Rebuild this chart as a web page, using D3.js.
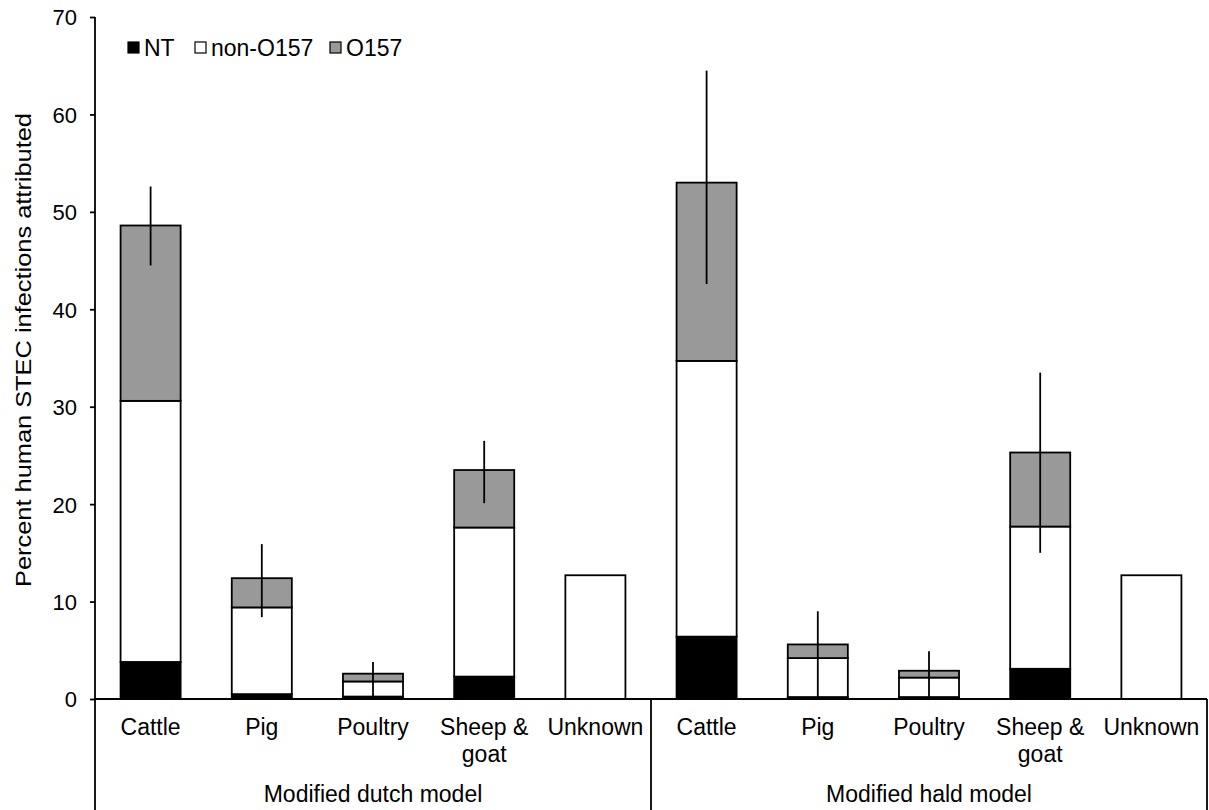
<!DOCTYPE html>
<html>
<head>
<meta charset="utf-8">
<script src="https://cdn.jsdelivr.net/npm/d3@7"></script>
<style>
  body { margin: 0; background: #fff; }
  text { font-family: "Liberation Sans", Arial, sans-serif; fill: #000; }
</style>
</head>
<body>
<script>
// Chart values
var groups = ["Modified dutch model", "Modified hald model"];
var categories = ["Cattle", "Pig", "Poultry", "Sheep & goat", "Unknown"];
var seriesNames = ["NT", "non-O157", "O157"];
var seriesColors = ["#000000", "#ffffff", "#999999"];

// one value per category, dutch first then hald
var ntValues    = [3.8, 0.5, 0.25, 2.3, 0,    6.4, 0.2, 0.2, 3.1, 0];
var nonValues   = [26.8, 8.9, 1.55, 15.3, 12.7, 28.3, 4.0, 2.0, 14.6, 12.7];
var o157Values  = [18.0, 3.0, 0.8, 5.9, 0,    18.3, 1.4, 0.7, 7.6, 0];
var errLow      = [44.5, 8.4, 0, 20.1, null,  42.6, 0, 0, 15.0, null];
var errHigh     = [52.6, 15.9, 3.8, 26.5, null, 64.5, 9.0, 4.9, 33.5, null];
var yTicks = [0, 10, 20, 30, 40, 50, 60, 70];

// build rows for the stack
var rows = [];
groups.forEach(function(g, gi) {
  categories.forEach(function(c, ci) {
    var i = gi * categories.length + ci;
    rows.push({
      key: gi + "-" + ci, group: g, cat: c,
      "NT": ntValues[i], "non-O157": nonValues[i], "O157": o157Values[i],
      lo: errLow[i], hi: errHigh[i]
    });
  });
});

var width = 1209, height = 810;
var x0 = 95, x1 = 1207, yTop = 17, yBase = 699;
var fs = "23px";

var svg = d3.select("body").append("svg")
  .attr("width", width)
  .attr("height", height);

var x = d3.scaleBand()
  .domain(rows.map(function(d) { return d.key; }))
  .range([x0, x1])
  .paddingInner(0.46)
  .paddingOuter(0.23);

var y = d3.scaleLinear().domain([0, 70]).range([yBase, yTop]);

var stack = d3.stack().keys(seriesNames)(rows);

// stacked bars
svg.selectAll("g.series")
    .data(stack).enter()
  .append("g")
    .attr("class", "series")
    .attr("fill", function(d, i) { return seriesColors[i]; })
  .selectAll("rect")
    .data(function(d) { return d.filter(function(p) { return p[1] - p[0] > 0; }); })
    .enter()
  .append("rect")
    .attr("x", function(d) { return x(d.data.key); })
    .attr("y", function(d) { return y(d[1]); })
    .attr("width", x.bandwidth())
    .attr("height", function(d) { return y(d[0]) - y(d[1]); })
    .attr("stroke", "#000")
    .attr("stroke-width", 1.8);

// error bars (no caps)
svg.selectAll("line.err")
    .data(rows.filter(function(d) { return d.hi != null; })).enter()
  .append("line")
    .attr("class", "err")
    .attr("x1", function(d) { return x(d.key) + x.bandwidth() / 2; })
    .attr("x2", function(d) { return x(d.key) + x.bandwidth() / 2; })
    .attr("y1", function(d) { return y(d.lo); })
    .attr("y2", function(d) { return y(d.hi); })
    .attr("stroke", "#000")
    .attr("stroke-width", 1.8);

// y axis
var yAxis = svg.append("g")
  .attr("transform", "translate(" + x0 + ",0)")
  .call(d3.axisLeft(y).tickValues(yTicks).tickSize(5).tickSizeOuter(0).tickPadding(13));
yAxis.select(".domain").remove();
yAxis.selectAll(".tick line").attr("stroke", "#000").attr("stroke-width", 1.8);
yAxis.selectAll(".tick text").style("font-size", "22px").attr("dy", "0.36em");

// axis lines and group dividers
svg.append("line")
  .attr("x1", x0).attr("x2", x0).attr("y1", yTop).attr("y2", height)
  .attr("stroke", "#000").attr("stroke-width", 1.8);
svg.append("line")
  .attr("x1", x0).attr("x2", x1).attr("y1", yBase).attr("y2", yBase)
  .attr("stroke", "#000").attr("stroke-width", 1.8);
var groupEdges = [x0 + (x1 - x0) / 2, x1];
svg.selectAll("line.div")
    .data(groupEdges).enter()
  .append("line")
    .attr("class", "div")
    .attr("x1", function(d) { return d; })
    .attr("x2", function(d) { return d; })
    .attr("y1", yBase).attr("y2", height)
    .attr("stroke", "#000").attr("stroke-width", 1.8);

// category labels (wrap "Sheep & goat")
var catLabels = svg.selectAll("text.cat")
    .data(rows).enter()
  .append("text")
    .attr("class", "cat")
    .attr("text-anchor", "middle")
    .style("font-size", fs);
catLabels.each(function(d) {
  var t = d3.select(this);
  var cx = x(d.key) + x.bandwidth() / 2;
  var parts = d.cat === "Sheep & goat" ? ["Sheep &", "goat"] : [d.cat];
  parts.forEach(function(p, i) {
    t.append("tspan").attr("x", cx).attr("y", 735 + i * 27).text(p);
  });
});

// group labels
svg.selectAll("text.group")
    .data(groups).enter()
  .append("text")
    .attr("class", "group")
    .attr("text-anchor", "middle")
    .attr("x", function(d, i) {
      var keys = rows.filter(function(r) { return r.group === d; });
      var a = x(keys[0].key), b = x(keys[keys.length - 1].key) + x.bandwidth();
      return (a + b) / 2;
    })
    .attr("y", 802)
    .style("font-size", fs)
    .text(function(d) { return d; });

// y axis title
svg.append("text")
  .attr("transform", "translate(31," + 350 + ") rotate(-90)")
  .attr("text-anchor", "middle")
  .attr("textLength", 474)
  .attr("lengthAdjust", "spacingAndGlyphs")
  .style("font-size", "22px")
  .text("Percent human STEC infections attributed");

// legend
var legendX = [128, 195, 330];
var legend = svg.selectAll("g.legend")
    .data(seriesNames).enter()
  .append("g")
    .attr("class", "legend")
    .attr("transform", function(d, i) { return "translate(" + legendX[i] + ",42)"; });
legend.append("rect")
  .attr("width", 11).attr("height", 11)
  .attr("fill", function(d, i) { return seriesColors[i]; })
  .attr("stroke", "#000").attr("stroke-width", 1.2);
legend.append("text")
  .attr("x", 16).attr("y", 14)
  .style("font-size", fs)
  .text(function(d) { return d; });
</script>
</body>
</html>
